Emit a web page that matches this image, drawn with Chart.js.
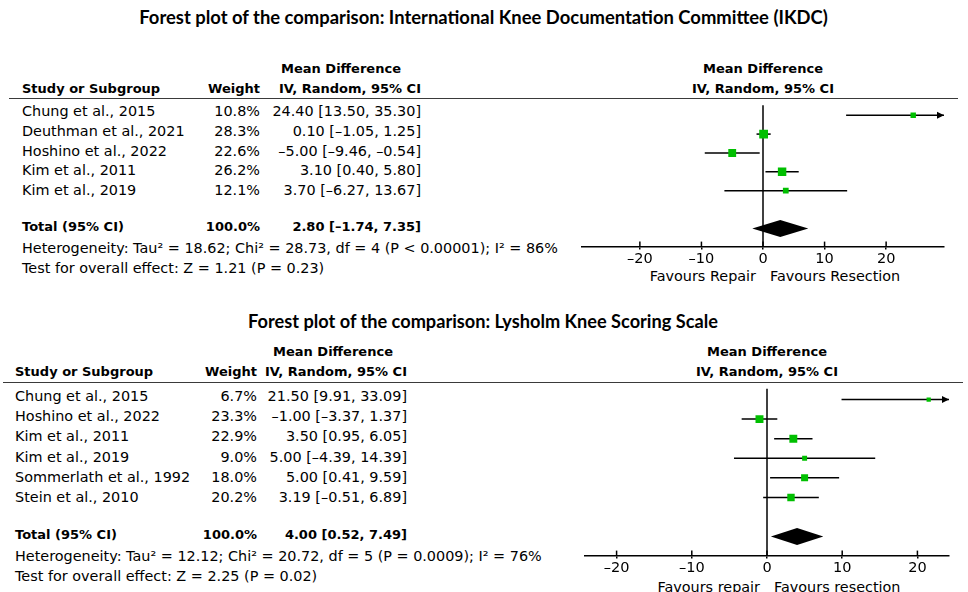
<!DOCTYPE html>
<html>
<head>
<meta charset="utf-8">
<script src="https://cdn.jsdelivr.net/npm/chart.js@4.4.1/dist/chart.umd.min.js"></script>
<style>
    html, body { margin: 0; padding: 0; background: #fff; }
    #page { position: relative; width: 968px; height: 592px; overflow: hidden; font-family: "DejaVu Sans", sans-serif; color: #000; }
    .t { position: absolute; white-space: nowrap; font-size: 14.4px; line-height: 18px; height: 18px; }
    .b { font-weight: bold; font-size: 13px; }
    .title { font-family: Lato, "Open Sans", sans-serif; font-weight: bold; font-size: 16px; }
    .hr { position: absolute; height: 0; border-top: 1.5px solid #3a3a3a; }
    canvas { position: absolute; }
</style>
</head>
<body>
<div id="page"></div>
<script>
// IKDC comparison
const ikdcStudies = ['Chung et al., 2015', 'Deuthman et al., 2021', 'Hoshino et al., 2022', 'Kim et al., 2011', 'Kim et al., 2019'];
const ikdcWeights = [10.8, 28.3, 22.6, 26.2, 12.1];
const ikdcMeans = [24.40, 0.10, -5.00, 3.10, 3.70];
const ikdcLower = [13.50, -1.05, -9.46, 0.40, -6.27];
const ikdcUpper = [35.30, 1.25, -0.54, 5.80, 13.67];
const ikdcTotal = [2.80, -1.74, 7.35];
const ikdcHet = 'Heterogeneity: Tau² = 18.62; Chi² = 28.73, df = 4 (P < 0.00001); I² = 86%';
const ikdcTest = 'Test for overall effect: Z = 1.21 (P = 0.23)';
const ikdcFavours = ['Favours Repair', 'Favours Resection'];

// Lysholm comparison
const lysStudies = ['Chung et al., 2015', 'Hoshino et al., 2022', 'Kim et al., 2011', 'Kim et al., 2019', 'Sommerlath et al., 1992', 'Stein et al., 2010'];
const lysWeights = [6.7, 23.3, 22.9, 9.0, 18.0, 20.2];
const lysMeans = [21.50, -1.00, 3.50, 5.00, 5.00, 3.19];
const lysLower = [9.91, -3.37, 0.95, -4.39, 0.41, -0.51];
const lysUpper = [33.09, 1.37, 6.05, 14.39, 9.59, 6.89];
const lysTotal = [4.00, 0.52, 7.49];
const lysHet = 'Heterogeneity: Tau² = 12.12; Chi² = 20.72, df = 5 (P = 0.0009); I² = 76%';
const lysTest = 'Test for overall effect: Z = 2.25 (P = 0.02)';
const lysFavours = ['Favours repair', 'Favours resection'];

const xTicks = [-20, -10, 0, 10, 20];

const page = document.getElementById('page');

function minus(s) {
    return String(s).replace(/-/g, '\u2013');
}

function fmt(v) {
    return minus(v.toFixed(2));
}

function ciText(m, lo, hi) {
    return `${fmt(m)} [${fmt(lo)}, ${fmt(hi)}]`;
}

function txt(str, x, y, align, cls) {
    const el = document.createElement('div');
    el.className = 't' + (cls ? ' ' + cls : '');
    el.textContent = str;
    el.style.top = (y - 9) + 'px';
    if (align === 'right') {
        el.style.right = (968 - x) + 'px';
    } else if (align === 'center') {
        el.style.left = x + 'px';
        el.style.transform = 'translateX(-50%)';
    } else {
        el.style.left = x + 'px';
    }
    page.appendChild(el);
    return el;
}

function title(str, cx, y, targetWidth) {
    const el = txt(str, cx, y, 'center', 'title');
    const w = el.getBoundingClientRect().width;
    el.style.fontSize = (16 * targetWidth / w) + 'px';
    return el;
}

function hr(x1, x2, y) {
    const el = document.createElement('div');
    el.className = 'hr';
    el.style.left = x1 + 'px';
    el.style.width = (x2 - x1) + 'px';
    el.style.top = (y - 0.75) + 'px';
    page.appendChild(el);
}

function forestChart(p) {
    const n = p.studies.length;
    const canvas = document.createElement('canvas');
    canvas.width = p.width;
    canvas.height = p.height;
    canvas.style.left = p.left + 'px';
    canvas.style.top = p.top + 'px';
    page.appendChild(canvas);

    const drawMarks = {
        id: 'forestMarks',
        beforeDatasetsDraw(chart) {
            const { ctx, chartArea: a, scales: { x, y } } = chart;
            ctx.save();
            ctx.strokeStyle = '#000';
            ctx.fillStyle = '#000';
            ctx.lineWidth = 1.5;

            // line of no effect
            const x0 = x.getPixelForValue(0);
            ctx.beginPath();
            ctx.moveTo(x0, a.top);
            ctx.lineTo(x0, a.bottom);
            ctx.stroke();

            // confidence intervals
            p.lower.forEach((lo, i) => {
                const hi = p.upper[i];
                const py = y.getPixelForValue(i);
                const x1 = x.getPixelForValue(Math.max(lo, x.min));
                const x2 = x.getPixelForValue(Math.min(hi, x.max));
                ctx.beginPath();
                ctx.moveTo(x1, py);
                ctx.lineTo(x2, py);
                ctx.stroke();
                if (hi > x.max) {
                    ctx.beginPath();
                    ctx.moveTo(x2, py);
                    ctx.lineTo(x2 - 7, py - 3.5);
                    ctx.lineTo(x2 - 7, py + 3.5);
                    ctx.closePath();
                    ctx.fill();
                }
                if (lo < x.min) {
                    ctx.beginPath();
                    ctx.moveTo(x1, py);
                    ctx.lineTo(x1 + 7, py - 3.5);
                    ctx.lineTo(x1 + 7, py + 3.5);
                    ctx.closePath();
                    ctx.fill();
                }
            });

            // pooled estimate diamond
            const [m, lo, hi] = p.total;
            const ty = y.getPixelForValue(n + 1);
            ctx.beginPath();
            ctx.moveTo(x.getPixelForValue(lo), ty);
            ctx.lineTo(x.getPixelForValue(m), ty - 8.5);
            ctx.lineTo(x.getPixelForValue(hi), ty);
            ctx.lineTo(x.getPixelForValue(m), ty + 8.5);
            ctx.closePath();
            ctx.fill();
            ctx.restore();
        },
        afterDraw(chart) {
            const { ctx, chartArea: a, scales: { x } } = chart;
            ctx.save();
            ctx.strokeStyle = '#000';
            ctx.lineWidth = 1.5;
            x.ticks.forEach(t => {
                const px = x.getPixelForValue(t.value);
                ctx.beginPath();
                ctx.moveTo(px, a.bottom - 5);
                ctx.lineTo(px, a.bottom);
                ctx.stroke();
            });
            ctx.restore();
        }
    };

    return new Chart(canvas, {
        type: 'scatter',
        data: {
            datasets: [{
                data: p.means.map((m, i) => ({ x: m, y: i })),
                pointStyle: 'rect',
                pointRadius: p.weights.map(w => 1.65 * Math.sqrt(w) / Math.SQRT2),
                pointBackgroundColor: '#00bf00',
                pointBorderWidth: 0,
                pointHoverRadius: 0
            }]
        },
        options: {
            responsive: false,
            animation: false,
            events: [],
            layout: { padding: { left: p.padLeft, right: p.padRight, top: 0, bottom: 0 } },
            plugins: { legend: { display: false }, tooltip: { enabled: false } },
            scales: {
                x: {
                    type: 'linear',
                    min: -p.xMax,
                    max: p.xMax,
                    afterBuildTicks: s => { s.ticks = xTicks.map(v => ({ value: v })); },
                    border: { color: '#000', width: 1.5 },
                    grid: { drawOnChartArea: false, drawTicks: true, tickLength: 3, color: '#000', lineWidth: 1.5 },
                    ticks: {
                        color: '#000',
                        padding: 1,
                        font: { family: 'DejaVu Sans', size: 14.5 },
                        callback: v => minus(v)
                    }
                },
                y: { type: 'linear', display: false, reverse: true, min: p.yMin, max: p.yMax }
            }
        },
        plugins: [drawMarks]
    });
}

function forestTable(p) {
    txt('Mean Difference', p.mdX, p.headY - 20, 'center', 'b');
    txt('Study or Subgroup', p.nameX, p.headY, 'left', 'b');
    txt('Weight', p.weightX, p.headY, 'right', 'b');
    txt('IV, Random, 95% CI', p.ciX, p.headY, 'right', 'b');
    txt('Mean Difference', p.plotX, p.headY - 20, 'center', 'b');
    txt('IV, Random, 95% CI', p.plotX, p.headY, 'center', 'b');
    hr(p.lineX1, p.lineX2, p.lineY);

    p.studies.forEach((s, i) => {
        const y = p.rowY + i * p.rowH;
        txt(s, p.nameX, y, 'left');
        txt(p.weights[i].toFixed(1) + '%', p.weightX, y, 'right');
        txt(ciText(p.means[i], p.lower[i], p.upper[i]), p.ciX, y, 'right');
    });

    txt('Total (95% CI)', p.nameX, p.totalY, 'left', 'b');
    txt('100.0%', p.weightX, p.totalY, 'right', 'b');
    txt(ciText(p.total[0], p.total[1], p.total[2]), p.ciX, p.totalY, 'right', 'b');
    txt(p.het, p.nameX, p.totalY + 21, 'left');
    txt(p.test, p.nameX, p.totalY + 41, 'left');
    txt(p.favours[0], p.plotX - 7, p.favY, 'right');
    txt(p.favours[1], p.plotX + 7, p.favY, 'left');
}

// top panel
title('Forest plot of the comparison: International Knee Documentation Committee (IKDC)', 483.5, 17, 689);
forestTable({
    studies: ikdcStudies, weights: ikdcWeights, means: ikdcMeans, lower: ikdcLower, upper: ikdcUpper,
    total: ikdcTotal, het: ikdcHet, test: ikdcTest, favours: ikdcFavours,
    nameX: 22, weightX: 260, ciX: 421, mdX: 341, plotX: 763,
    headY: 89, lineX1: 9, lineX2: 958, lineY: 99,
    rowY: 111, rowH: 19.75, totalY: 227, favY: 276
});
forestChart({
    studies: ikdcStudies, weights: ikdcWeights, means: ikdcMeans, lower: ikdcLower, upper: ikdcUpper, total: ikdcTotal,
    left: 560, top: 99, width: 408, height: 170, padLeft: 22, padRight: 24,
    xMax: 29.4, yMin: -0.53, yMax: 6.96
});

// bottom panel
title('Forest plot of the comparison: Lysholm Knee Scoring Scale', 483, 321, 470);
forestTable({
    studies: lysStudies, weights: lysWeights, means: lysMeans, lower: lysLower, upper: lysUpper,
    total: lysTotal, het: lysHet, test: lysTest, favours: lysFavours,
    nameX: 15, weightX: 257, ciX: 407, mdX: 333, plotX: 767,
    headY: 372, lineX1: 3, lineX2: 963, lineY: 383,
    rowY: 396, rowH: 20.2, totalY: 535, favY: 587
});
forestChart({
    studies: lysStudies, weights: lysWeights, means: lysMeans, lower: lysLower, upper: lysUpper, total: lysTotal,
    left: 560, top: 383, width: 408, height: 195, padLeft: 25, padRight: 19,
    xMax: 24.2, yMin: -0.557, yMax: 7.97
});
</script>
</body>
</html>
